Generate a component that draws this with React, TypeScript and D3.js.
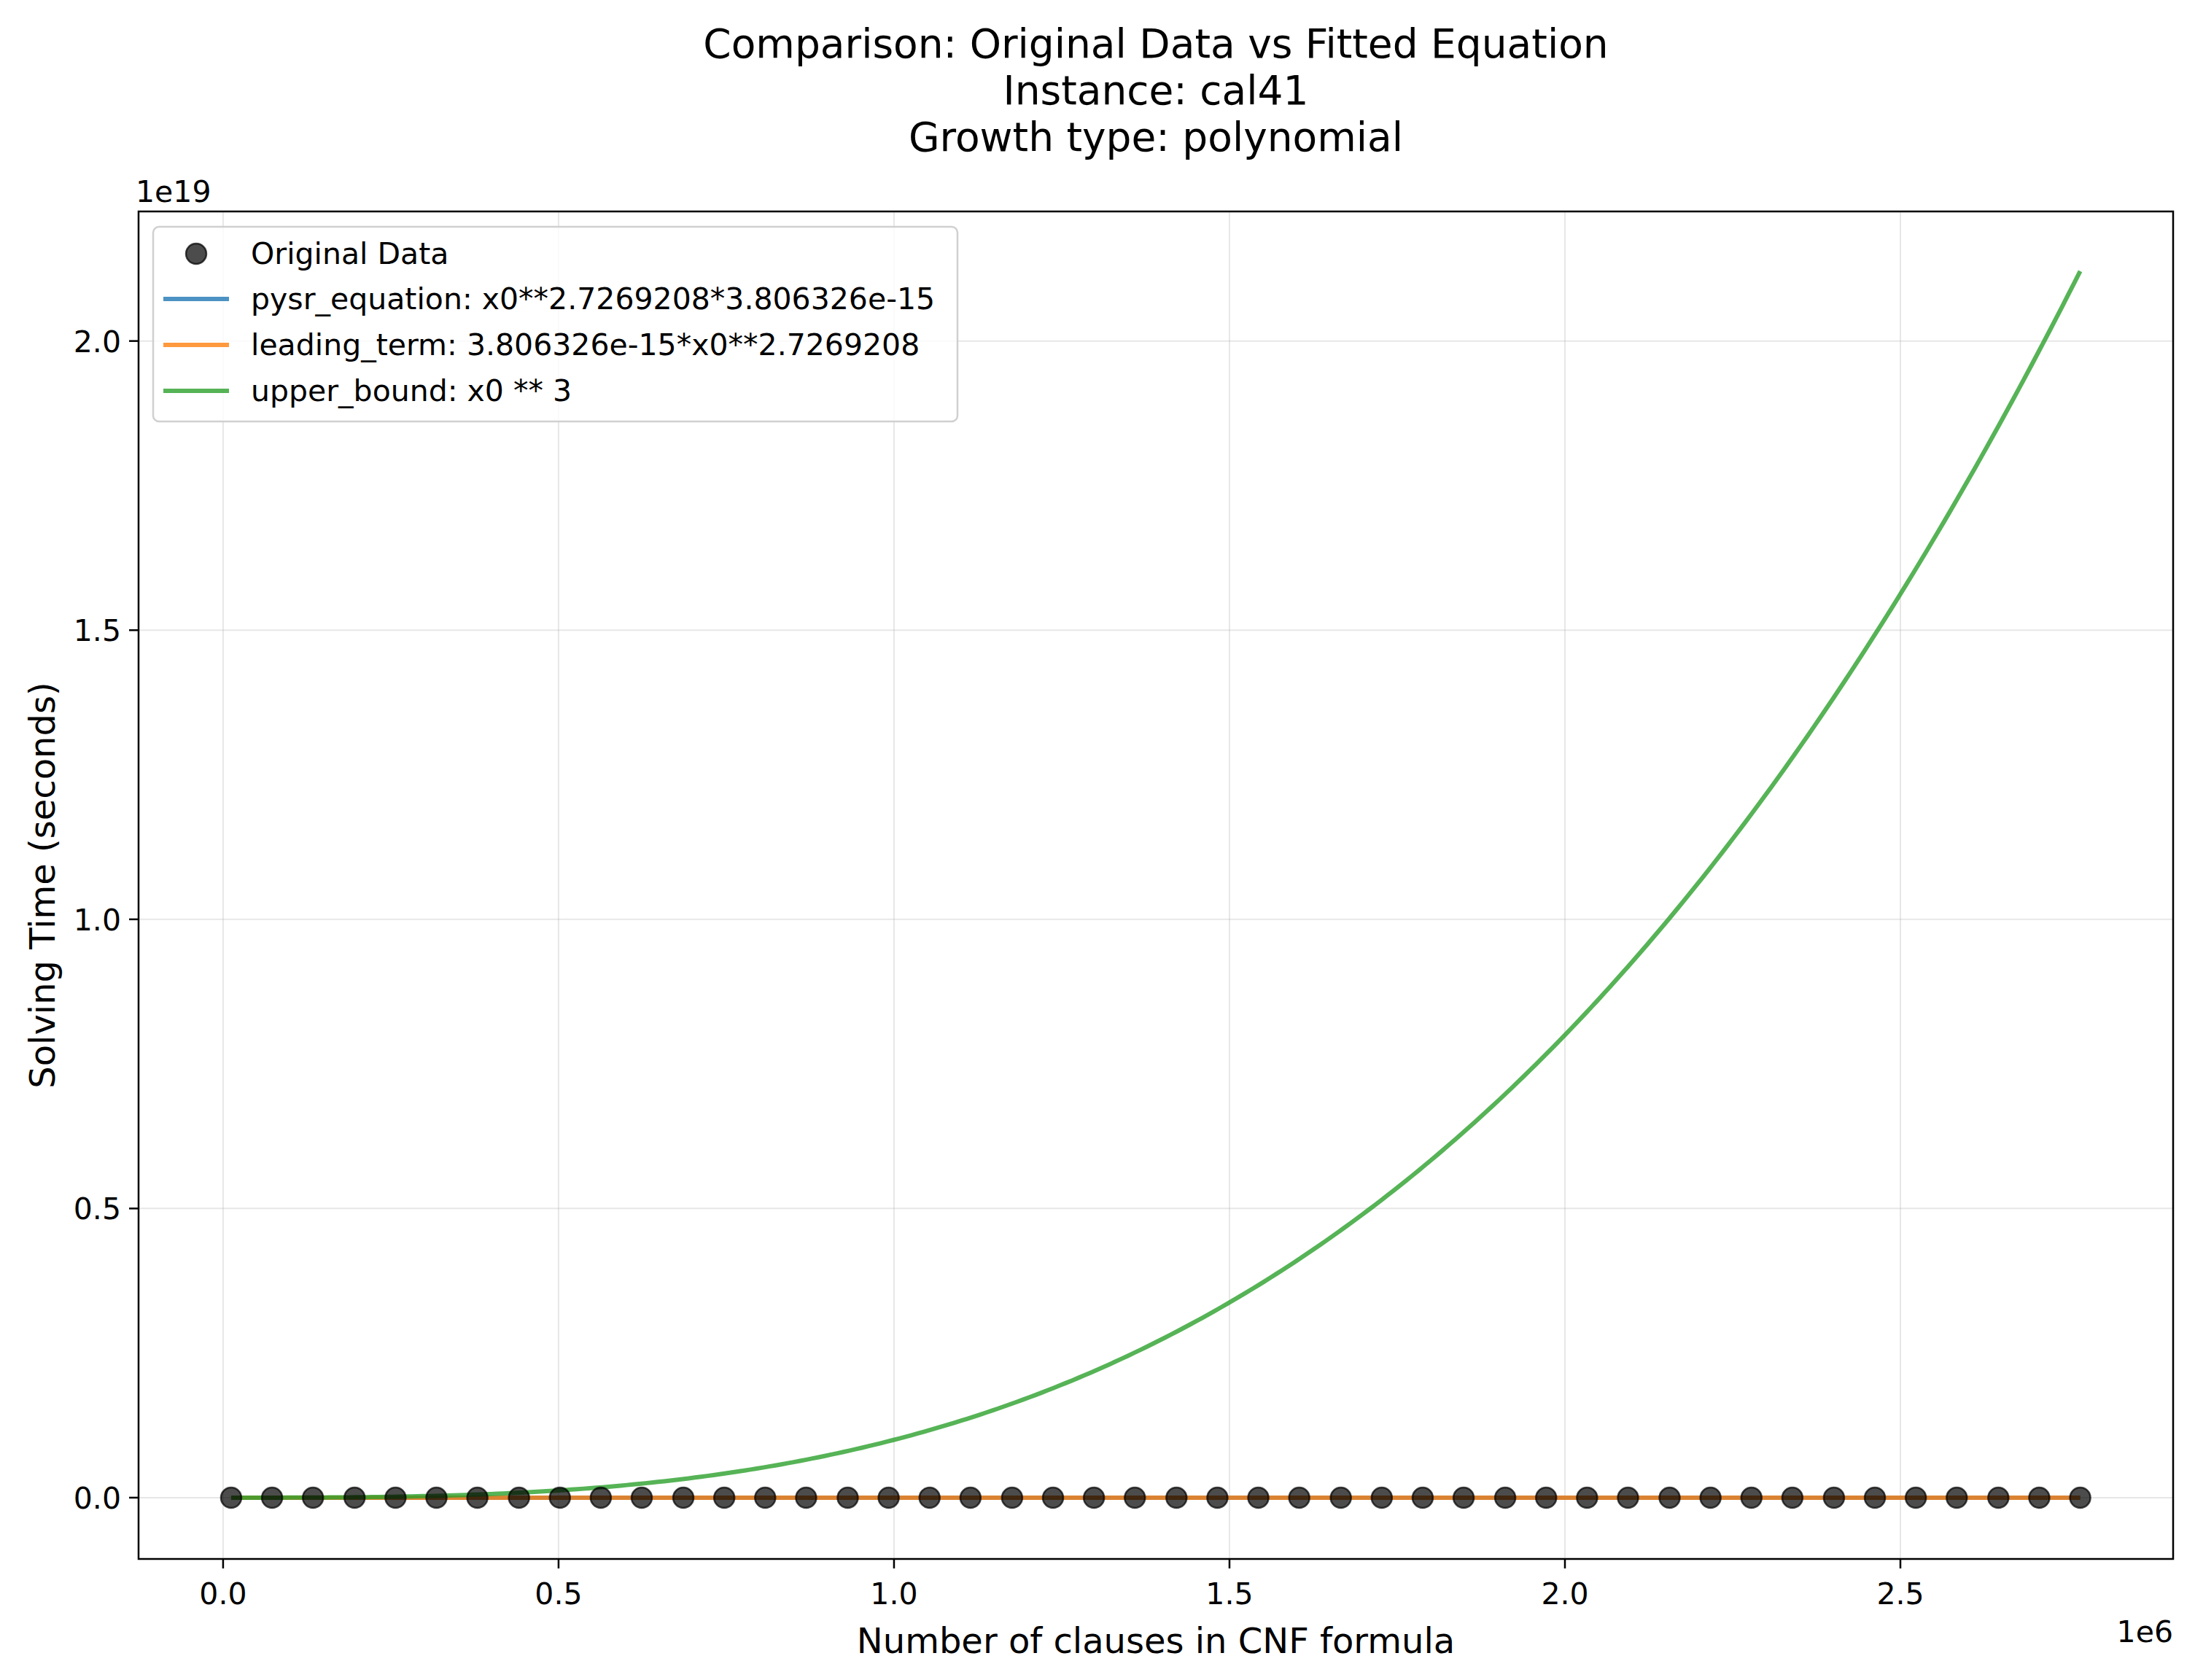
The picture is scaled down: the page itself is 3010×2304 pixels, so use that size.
import React from "react";
import * as d3 from "d3";

const xData = [0.012,0.073,0.134,0.196,0.257,0.318,0.379,0.441,0.502,0.563,0.624,0.686,0.747,0.808,0.869,0.931,0.992,1.053,1.114,1.176,1.237,1.298,1.359,1.421,1.482,1.543,1.604,1.666,1.727,1.788,1.849,1.911,1.972,2.033,2.094,2.156,2.217,2.278,2.339,2.401,2.462,2.523,2.584,2.646,2.707,2.768].map(v => v * 1e6);
const yData = [0.3,52,150,290,470,690,950,1250,1590,1970,2390,2850,3350,3890,4480,5110,5780,6500,7260,8060,8900,9790,10720,11700,12720,13780,14890,16040,17240,18480,19770,21100,22480,23900,25370,26890,28450,30060,31710,33410,35160,36950,38790,40680,42610,44590];
const xTicks = [0, 0.5, 1.0, 1.5, 2.0, 2.5];
const yTicks = [0, 0.5, 1.0, 1.5, 2.0];
const legendLabels = ["Original Data", "pysr_equation: x0**2.7269208*3.806326e-15", "leading_term: 3.806326e-15*x0**2.7269208", "upper_bound: x0 ** 3"];
const lineColors = ["#1f77b4", "#ff7f0e", "#2ca02c"];
const titleLines = ["Comparison: Original Data vs Fitted Equation", "Instance: cal41", "Growth type: polynomial"];

const W = 3010, H = 2304;
const L = 190, R = 2980, T = 290, B = 2138;
const FONT = "DejaVu Sans";
const FS = 41;

export default function App() {
  const x = d3.scaleLinear().domain([-0.126e6, 2.9065e6]).range([L, R]);
  const y = d3.scaleLinear().domain([-0.106e19, 2.224e19]).range([B, T]);
  const xs = d3.range(0, 300).map(i => xData[0] + (xData[xData.length - 1] - xData[0]) * i / 299);
  const fns = [
    (v: number) => Math.pow(v, 2.7269208) * 3.806326e-15,
    (v: number) => 3.806326e-15 * Math.pow(v, 2.7269208),
    (v: number) => v * v * v,
  ];
  const line = d3.line<[number, number]>().x(d => x(d[0])).y(d => y(d[1]));
  const legendYs = [348, 410, 473, 536];
  return (
    <svg width={W} height={H} style={{ display: "block", position: "absolute", left: 0, top: 0 }} fontFamily={FONT}>
      <rect width={W} height={H} fill="#fff" />
      {titleLines.map((t, i) => (
        <text key={i} x={(L + R) / 2} y={79 + i * 64} textAnchor="middle" fontSize={55}>{t}</text>
      ))}
      <defs><clipPath id="c"><rect x={L} y={T} width={R - L} height={B - T} /></clipPath></defs>
      {xTicks.map(t => <line key={"gx" + t} x1={x(t * 1e6)} x2={x(t * 1e6)} y1={T} y2={B} stroke="#b0b0b0" strokeOpacity={0.3} strokeWidth={2} />)}
      {yTicks.map(t => <line key={"gy" + t} x1={L} x2={R} y1={y(t * 1e19)} y2={y(t * 1e19)} stroke="#b0b0b0" strokeOpacity={0.3} strokeWidth={2} />)}
      <g clipPath="url(#c)">
        {fns.map((f, i) => (
          <path key={i} d={line(xs.map(v => [v, f(v)]))!} fill="none" stroke={lineColors[i]} strokeOpacity={0.8} strokeWidth={6} />
        ))}
        {xData.map((v, i) => (
          <circle key={i} cx={x(v)} cy={y(yData[i])} r={14} fill="#000" fillOpacity={0.7} stroke="#000" strokeOpacity={0.7} strokeWidth={2.5} />
        ))}
      </g>
      <rect x={L} y={T} width={R - L} height={B - T} fill="none" stroke="#000" strokeWidth={2.5} />
      {xTicks.map(t => (
        <g key={"xt" + t}>
          <line x1={x(t * 1e6)} x2={x(t * 1e6)} y1={B} y2={B + 13} stroke="#000" strokeWidth={2.5} />
          <text x={x(t * 1e6)} y={B + 62} textAnchor="middle" fontSize={FS}>{t.toFixed(1)}</text>
        </g>
      ))}
      {yTicks.map(t => (
        <g key={"yt" + t}>
          <line x1={L - 13} x2={L} y1={y(t * 1e19)} y2={y(t * 1e19)} stroke="#000" strokeWidth={2.5} />
          <text x={L - 24} y={y(t * 1e19) + 15} textAnchor="end" fontSize={FS}>{t.toFixed(1)}</text>
        </g>
      ))}
      <text x={L - 4} y={T - 13} fontSize={FS}>1e19</text>
      <text x={R} y={B + 114} textAnchor="end" fontSize={FS}>1e6</text>
      <text x={(L + R) / 2} y={B + 129} textAnchor="middle" fontSize={48}>Number of clauses in CNF formula</text>
      <text transform={`translate(75,${(T + B) / 2}) rotate(-90)`} textAnchor="middle" fontSize={48}>Solving Time (seconds)</text>
      <rect x={210} y={311} width={1103} height={267} rx={8} fill="#fff" fillOpacity={0.8} stroke="#d0d0d0" strokeWidth={2.5} />
      {legendLabels.map((lab, i) => (
        <g key={lab}>
          {i === 0
            ? <circle cx={269} cy={legendYs[i]} r={14} fill="#000" fillOpacity={0.7} stroke="#000" strokeOpacity={0.7} strokeWidth={2.5} />
            : <line x1={224} x2={314} y1={legendYs[i]} y2={legendYs[i]} stroke={lineColors[i - 1]} strokeOpacity={0.8} strokeWidth={6} />}
          <text x={344} y={legendYs[i] + 14} fontSize={FS}>{lab}</text>
        </g>
      ))}
    </svg>
  );
}
